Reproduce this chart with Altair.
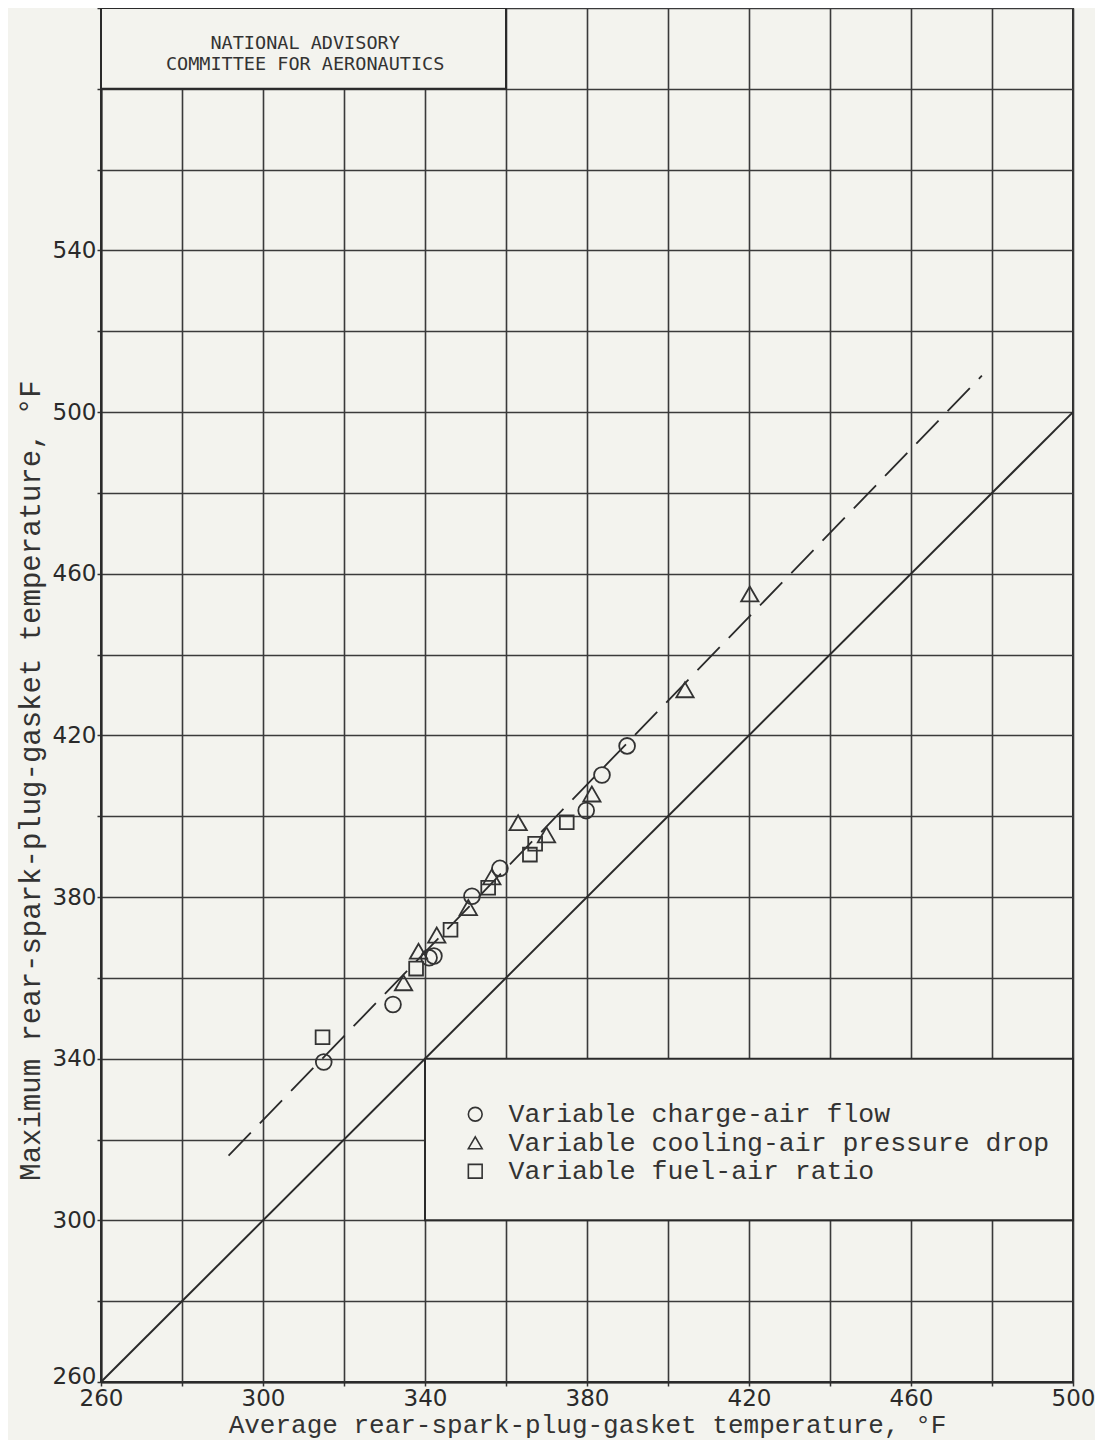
import altair as alt
import pandas as pd

# ---------------- data ----------------
series_names = [
    "Variable charge-air flow",
    "Variable cooling-air pressure drop",
    "Variable fuel-air ratio",
]
series_shapes = ["circle", "triangle-up", "square"]
series_sizes = [250, 300, 190]

charge_x = [315.0, 332.1, 341.0, 342.2, 351.6, 358.5, 379.8, 383.7, 389.9]
charge_y = [339.2, 353.4, 365.0, 365.4, 380.2, 387.1, 401.4, 410.2, 417.4]

cooling_x = [334.7, 338.4, 342.9, 350.7, 356.5, 363.0, 370.0, 381.2, 404.2, 420.2]
cooling_y = [358.8, 366.6, 370.6, 377.4, 385.0, 398.4, 395.4, 405.5, 431.3, 455.0]

fuel_x = [314.7, 337.8, 346.3, 355.6, 365.9, 367.2, 375.0]
fuel_y = [345.3, 362.3, 371.9, 382.3, 390.5, 393.2, 398.5]

# reference lines
equal_x = [260, 500]
equal_y = [260, 500]
fit_x = [291.5, 477.5]
fit_y = [316.0, 509.0]

# boxes (title block and legend block)
box_x = [260, 340]
box_x2 = [360, 500]
box_y = [580, 300]
box_y2 = [600, 340]

stamp_text = ["NATIONAL ADVISORY\nCOMMITTEE FOR AERONAUTICS"]
stamp_x = [310.4]
stamp_y = [591.4]

x_ticks = list(range(260, 501, 20))
y_ticks = list(range(260, 601, 20))

x_title = "Average rear-spark-plug-gasket temperature, \u00b0F"
y_title = "Maximum rear-spark-plug-gasket temperature, \u00b0F"

# ---------------- tables ----------------
series_data = [(charge_x, charge_y), (cooling_x, cooling_y), (fuel_x, fuel_y)]
series_frames = [
    pd.DataFrame({"x": xs, "y": ys, "series": [name] * len(xs)})
    for name, (xs, ys) in zip(series_names, series_data)
]

equal_df = pd.DataFrame({"x": equal_x, "y": equal_y})
fit_df = pd.DataFrame({"x": fit_x, "y": fit_y})
box_df = pd.DataFrame({"x": box_x, "x2": box_x2, "y": box_y, "y2": box_y2})
stamp_df = pd.DataFrame({"x": stamp_x, "y": stamp_y, "t": stamp_text})

BG = "#f3f3ee"
INK = "#2a2a2a"

x_scale = alt.Scale(domain=[260, 500], nice=False, zero=False)
y_scale = alt.Scale(domain=[260, 600], nice=False, zero=False)

x_axis = alt.Axis(
    values=x_ticks,
    labelExpr="(datum.value - 260) % 40 == 0 ? datum.value : ''",
    title=x_title,
    tickSize=4,
    labelPadding=1,
    titleY=42,
    titleBaseline="middle",
    titleFontSize=26,
)
y_axis = alt.Axis(
    values=y_ticks,
    labelExpr="(datum.value - 260) % 40 == 0 && datum.value <= 540 ? datum.value : ''",
    labelOffset={"condition": {"test": "datum.value == 260", "value": -6}, "value": 0},
    title=y_title,
    tickSize=4,
    labelPadding=1,
    titleAngle=270,
    titleX=-71,
    titleY=772,
    titleAlign="center",
    titleBaseline="middle",
    titleFontSize=29,
)


def X(field="x"):
    return alt.X(f"{field}:Q", scale=x_scale, axis=x_axis)


def Y(field="y"):
    return alt.Y(f"{field}:Q", scale=y_scale, axis=y_axis)


boxes = alt.Chart(box_df).mark_rect(fill=BG, stroke=INK, strokeWidth=2).encode(
    x=X(), x2="x2:Q", y=Y(), y2="y2:Q"
)

stamp = alt.Chart(stamp_df).mark_text(
    font="DejaVu Sans Mono", fontSize=18.5, color="#333", align="center",
    baseline="middle", lineBreak="\n", lineHeight=21,
).encode(x=X(), y=Y(), text="t:N")

equal_line = alt.Chart(equal_df).mark_line(color=INK, strokeWidth=2).encode(x=X(), y=Y())

fit_line = alt.Chart(fit_df).mark_line(
    color=INK, strokeWidth=1.8, strokeDash=[32, 13]
).encode(x=X(), y=Y())

shape_enc = alt.Shape(
    "series:N",
    scale=alt.Scale(domain=series_names, range=series_shapes),
    legend=alt.Legend(
        orient="none",
        legendX=361,
        legendY=1093,
        title=None,
        labelFont="Liberation Mono",
        labelFontSize=26.5,
        labelColor="#333",
        labelLimit=0,
        labelOffset=20,
        symbolSize=190,
        symbolStrokeWidth=1.6,
        symbolStrokeColor="#333",
        symbolFillColor="transparent",
        rowPadding=1.5,
        padding=0,
    ),
)

point_layers = [
    alt.Chart(df).mark_point(
        filled=False, strokeWidth=1.8, color="#333", opacity=1, size=s
    ).encode(x=X(), y=Y(), shape=shape_enc)
    for df, s in zip(series_frames, series_sizes)
]

chart = (
    alt.layer(boxes, equal_line, fit_line, *point_layers, stamp)
    .properties(
        width=972,
        height=1374,
        background=BG,
        padding={"left": 93, "top": 0, "right": 22, "bottom": 58},
        autosize=alt.AutoSizeParams(type="none"),
    )
    .configure_view(stroke=INK, strokeWidth=2)
    .configure_axis(
        grid=True,
        gridColor="#3a3a3a",
        gridWidth=1.6,
        gridOpacity=1,
        domainColor=INK,
        domainWidth=2,
        tickColor="#333",
        tickWidth=1.5,
        labelFont="DejaVu Sans",
        labelFontSize=23,
        labelColor="#2a2a2a",
        labelFlush=False,
        labelOverlap=False,
        titleFont="Liberation Mono",
        titleFontWeight="normal",
        titleColor="#333",
    )
)

chart.save("out.html", embed_options={"renderer": "svg", "actions": False})
